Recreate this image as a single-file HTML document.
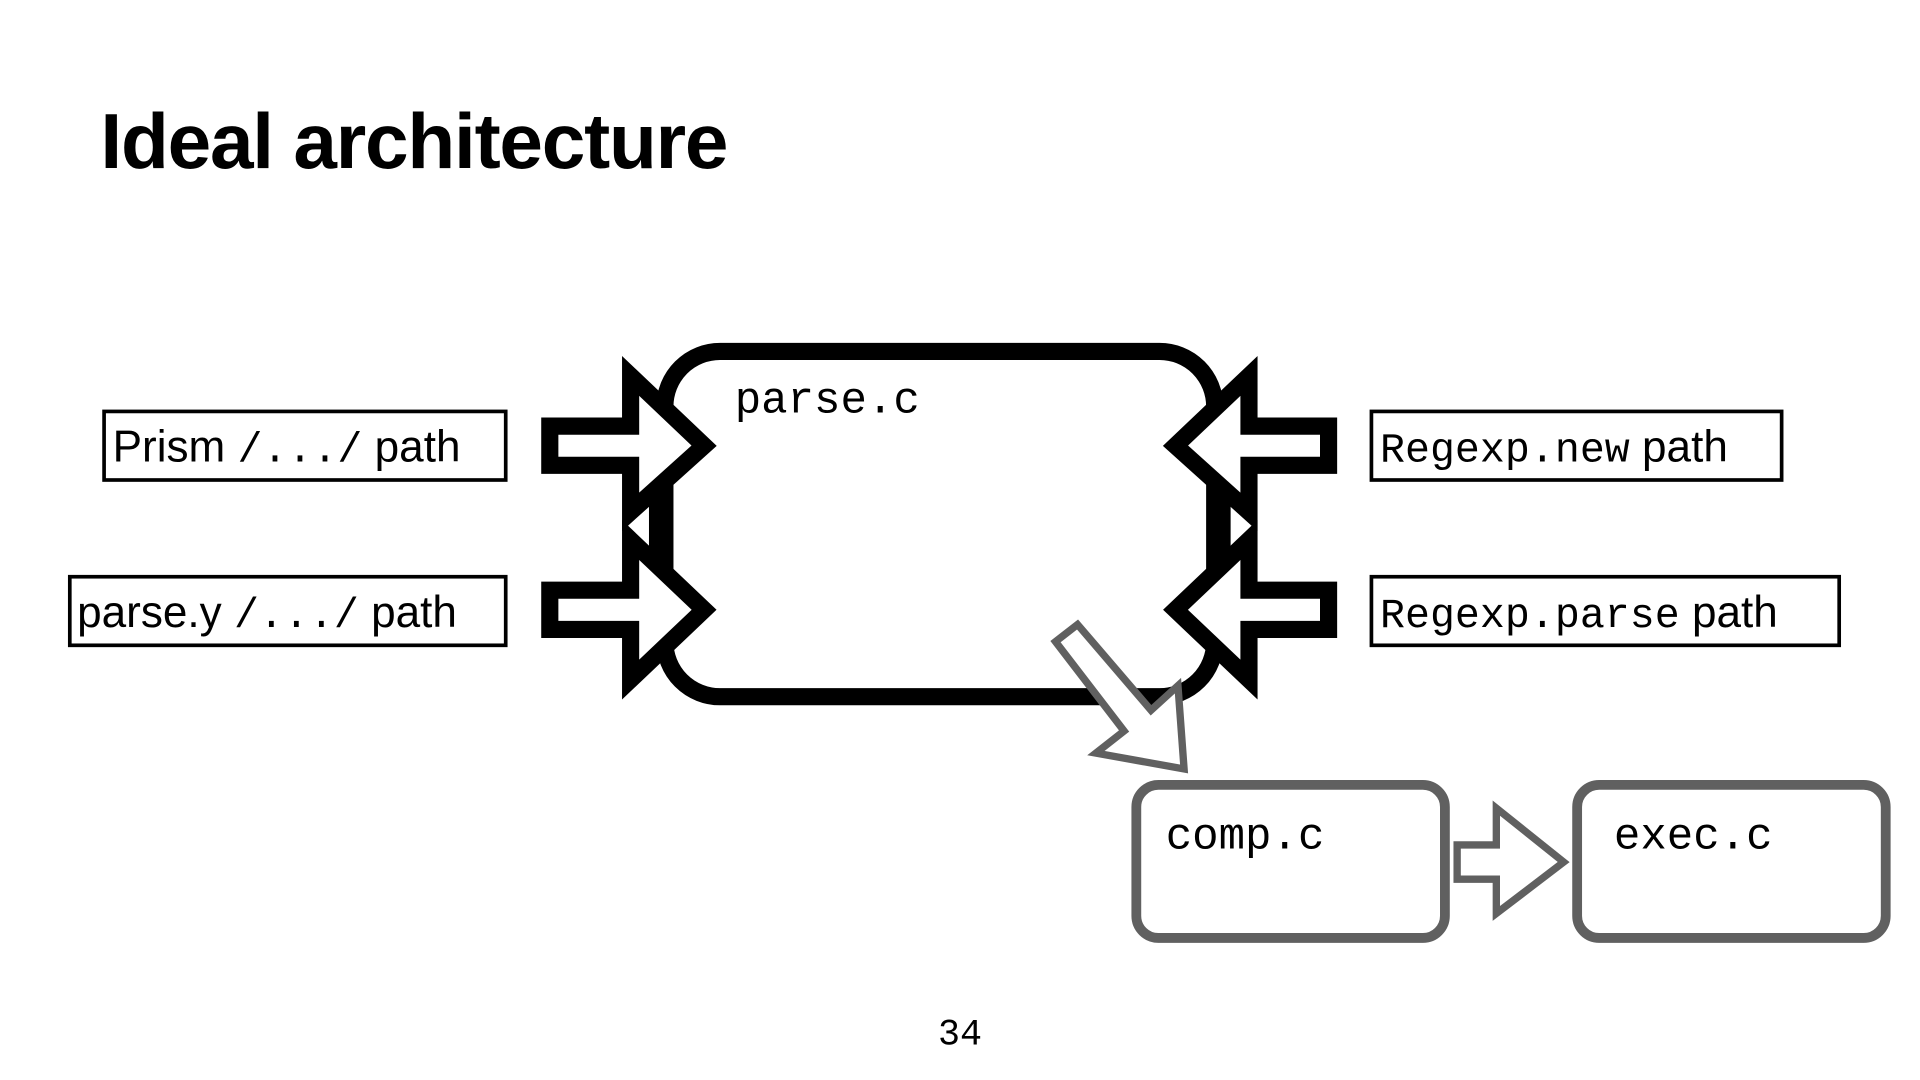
<!DOCTYPE html>
<html><head><meta charset="utf-8"><style>
html,body{margin:0;padding:0;background:#fff;width:1920px;height:1080px;overflow:hidden}
svg{display:block}
.s{font-family:"Liberation Sans",Arial,sans-serif}
.m{font-family:"Liberation Mono","DejaVu Sans Mono",monospace}
</style></head><body>
<svg width="1920" height="1080" viewBox="0 0 1568 882" preserveAspectRatio="none" xmlns="http://www.w3.org/2000/svg">
<text x="82" y="137" class="s" font-size="64" font-weight="bold" letter-spacing="-1">Ideal architecture</text>

<rect x="543" y="287" width="449" height="282" rx="45" fill="#fff" stroke="#000" stroke-width="14"/>
<text x="600" y="337" class="m" font-size="36">parse.c</text>

<!-- left arrows -->
<rect x="512" y="395" width="35" height="70" fill="#000"/>
<polygon points="530,410 509,430 530,450" fill="#fff"/>
<polygon points="449,348 515,348 515,307 575,364 515,418 515,380 449,380" fill="#fff" stroke="#000" stroke-width="14" stroke-linejoin="miter"/>
<polygon points="449,482 515,482 515,441 575,498 515,555 515,514 449,514" fill="#fff" stroke="#000" stroke-width="14" stroke-linejoin="miter"/>

<!-- right arrows -->
<rect x="988" y="395" width="35" height="70" fill="#000"/>
<polygon points="1005,410 1026,430 1005,450" fill="#fff"/>
<polygon points="1085,348 1020,348 1020,307 960,364 1020,418 1020,380 1085,380" fill="#fff" stroke="#000" stroke-width="14" stroke-linejoin="miter"/>
<polygon points="1085,482 1020,482 1020,441 960,498 1020,555 1020,514 1085,514" fill="#fff" stroke="#000" stroke-width="14" stroke-linejoin="miter"/>

<!-- labels -->
<rect x="85" y="336" width="328" height="56" fill="#fff" stroke="#000" stroke-width="3"/>
<text x="92" y="377" font-size="36"><tspan class="s">Prism </tspan><tspan class="m" font-size="34">/.../</tspan><tspan class="s"> path</tspan></text>
<rect x="57" y="471" width="356" height="56" fill="#fff" stroke="#000" stroke-width="3"/>
<text x="63" y="512" font-size="36"><tspan class="s">parse.y </tspan><tspan class="m" font-size="34">/.../</tspan><tspan class="s"> path</tspan></text>
<rect x="1120" y="336" width="335" height="56" fill="#fff" stroke="#000" stroke-width="3"/>
<text x="1127" y="377" font-size="36"><tspan class="m" font-size="34">Regexp.new</tspan><tspan class="s"> path</tspan></text>
<rect x="1120" y="471" width="382" height="56" fill="#fff" stroke="#000" stroke-width="3"/>
<text x="1127" y="512" font-size="36"><tspan class="m" font-size="34">Regexp.parse</tspan><tspan class="s"> path</tspan></text>

<!-- gray diagonal arrow -->
<polygon points="862,524 880,510 940,580 962,560 967,628 895,615 918,597" fill="#fff" stroke="#606060" stroke-width="6" stroke-linejoin="miter"/>

<!-- comp / exec -->
<rect x="928" y="641" width="252" height="125" rx="18" fill="#fff" stroke="#606060" stroke-width="8"/>
<text x="952" y="693" class="m" font-size="36">comp.c</text>
<rect x="1288" y="641" width="252" height="125" rx="18" fill="#fff" stroke="#606060" stroke-width="8"/>
<text x="1318" y="693" class="m" font-size="36">exec.c</text>
<polygon points="1190,690 1222,690 1222,660 1277,704 1222,746 1222,718 1190,718" fill="#fff" stroke="#606060" stroke-width="6" stroke-linejoin="miter"/>

<text x="784" y="853" class="m" font-size="30" text-anchor="middle">34</text>
</svg>
</body></html>
